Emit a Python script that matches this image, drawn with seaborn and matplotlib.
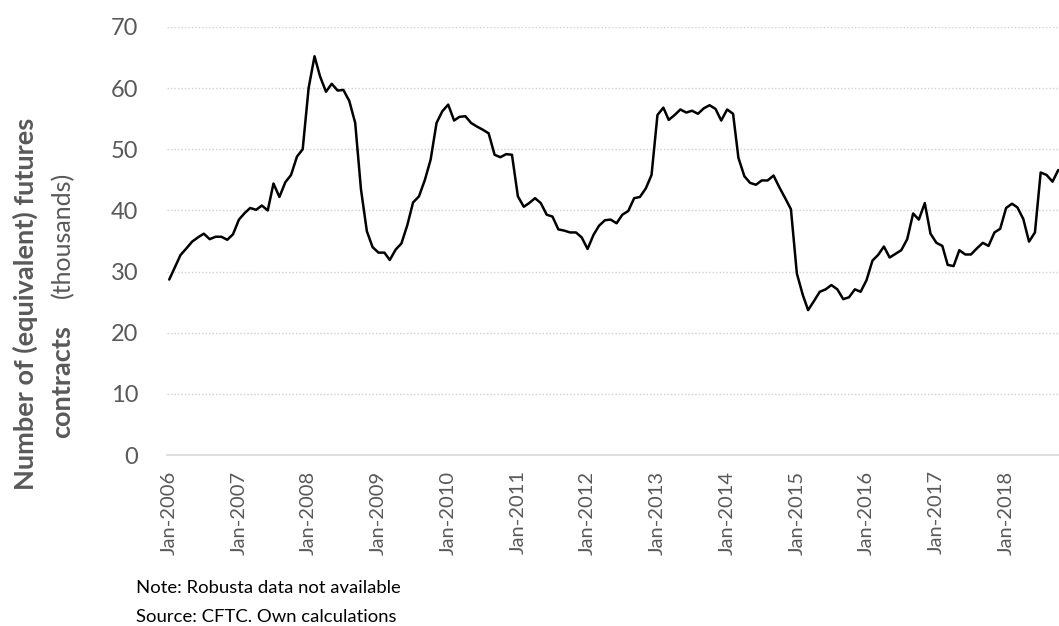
import matplotlib
matplotlib.use("Agg")
import matplotlib.dates as mdates
import matplotlib.pyplot as plt
import numpy as np
import pandas as pd
import seaborn as sns

# monthly open interest, thousands of contracts, Jan-2006 .. Oct-2018
START_MONTH = "2006-01-01"
CONTRACTS = [
    28.7, 30.8, 32.7, 33.8, 34.9, 35.6, 36.2, 35.3, 35.7, 35.7, 35.2, 36.1,
    38.5, 39.6, 40.4, 40.1, 40.8, 40.0, 44.4, 42.2, 44.6, 45.8, 48.8, 50.0,
    60.0, 65.2, 61.9, 59.4, 60.7, 59.6, 59.7, 57.9, 54.3, 43.5, 36.6, 34.0,
    33.1, 33.1, 31.9, 33.6, 34.6, 37.6, 41.3, 42.3, 45.0, 48.3, 54.3, 56.2,
    57.3, 54.7, 55.3, 55.4, 54.3, 53.7, 53.2, 52.6, 49.1, 48.7, 49.2, 49.1,
    42.3, 40.6, 41.2, 42.0, 41.2, 39.3, 39.0, 36.9, 36.7, 36.4, 36.4, 35.6,
    33.7, 36.0, 37.5, 38.4, 38.5, 37.9, 39.3, 39.9, 42.0, 42.2, 43.6, 45.8,
    55.6, 56.8, 54.8, 55.6, 56.5, 56.0, 56.3, 55.8, 56.7, 57.2, 56.6, 54.7,
    56.5, 55.8, 48.6, 45.6, 44.5, 44.2, 44.9, 44.9, 45.7, 43.8, 42.0, 40.2,
    29.7, 26.2, 23.7, 25.2, 26.7, 27.1, 27.8, 27.1, 25.5, 25.8, 27.1, 26.7,
    28.6, 31.8, 32.7, 34.1, 32.3, 32.9, 33.5, 35.3, 39.5, 38.5, 41.2, 36.2,
    34.7, 34.2, 31.1, 30.9, 33.5, 32.8, 32.8, 33.8, 34.7, 34.2, 36.4, 37.0,
    40.4, 41.1, 40.5, 38.6, 34.9, 36.4, 46.2, 45.8, 44.7, 46.6,
]
Y_TICKS = [0, 10, 20, 30, 40, 50, 60, 70]
TICK_YEARS = list(range(2006, 2019))
NOTES = ["Note: Robusta data not available", "Source: CFTC. Own calculations"]

sns.set_theme(style="white")
plt.rcParams["font.family"] = ["Lato", "DejaVu Sans"]

df = pd.DataFrame(
    {
        "month": pd.date_range(START_MONTH, periods=len(CONTRACTS), freq="MS"),
        "contracts": CONTRACTS,
    }
)

fig = plt.figure(figsize=(10.59, 6.26), dpi=100)
ax = fig.add_axes([0.158, 0.273, 0.842, 0.684])

sns.lineplot(data=df, x="month", y="contracts", color="black", linewidth=1.8, ax=ax)

ax.set_ylim(0, 70)
ax.set_yticks(Y_TICKS)
ax.set_xlim(pd.Timestamp("2005-12-22"), pd.Timestamp("2018-10-05"))
ax.set_xticks([pd.Timestamp(f"{y}-01-01") for y in TICK_YEARS])
ax.xaxis.set_major_formatter(mdates.DateFormatter("%b-%Y"))
ax.tick_params(axis="x", labelrotation=90, labelsize=14.5, colors="#595959", length=0, pad=11)
ax.tick_params(axis="y", labelsize=17, colors="#595959", length=0, pad=21)

ax.yaxis.grid(True, linestyle=(0, (1, 1.5)), color="#d0d0d0", linewidth=1)
ax.xaxis.grid(False)
for side in ["top", "right", "left"]:
    ax.spines[side].set_visible(False)
ax.spines["bottom"].set_color("#d9d9d9")
ax.spines["bottom"].set_linewidth(1.2)
ax.set_xlabel("")
ax.set_ylabel("")

# two-line axis title, second line mixes bold and regular text
fig.text(0.024, 0.515, "Number of (equivalent) futures", rotation=90, ha="center", va="center",
         fontsize=19.5, fontweight="bold", color="#595959")
fig.text(0.059, 0.391, "contracts", rotation=90, ha="center", va="center",
         fontsize=19.5, fontweight="bold", color="#595959")
fig.text(0.059, 0.625, "(thousands)", rotation=90, ha="center", va="center",
         fontsize=18, color="#595959")

fig.text(0.128, 0.061, NOTES[0], fontsize=13.3, color="black", va="center")
fig.text(0.128, 0.015, NOTES[1], fontsize=13.3, color="black", va="center")

fig.savefig("out.png", dpi=100)
